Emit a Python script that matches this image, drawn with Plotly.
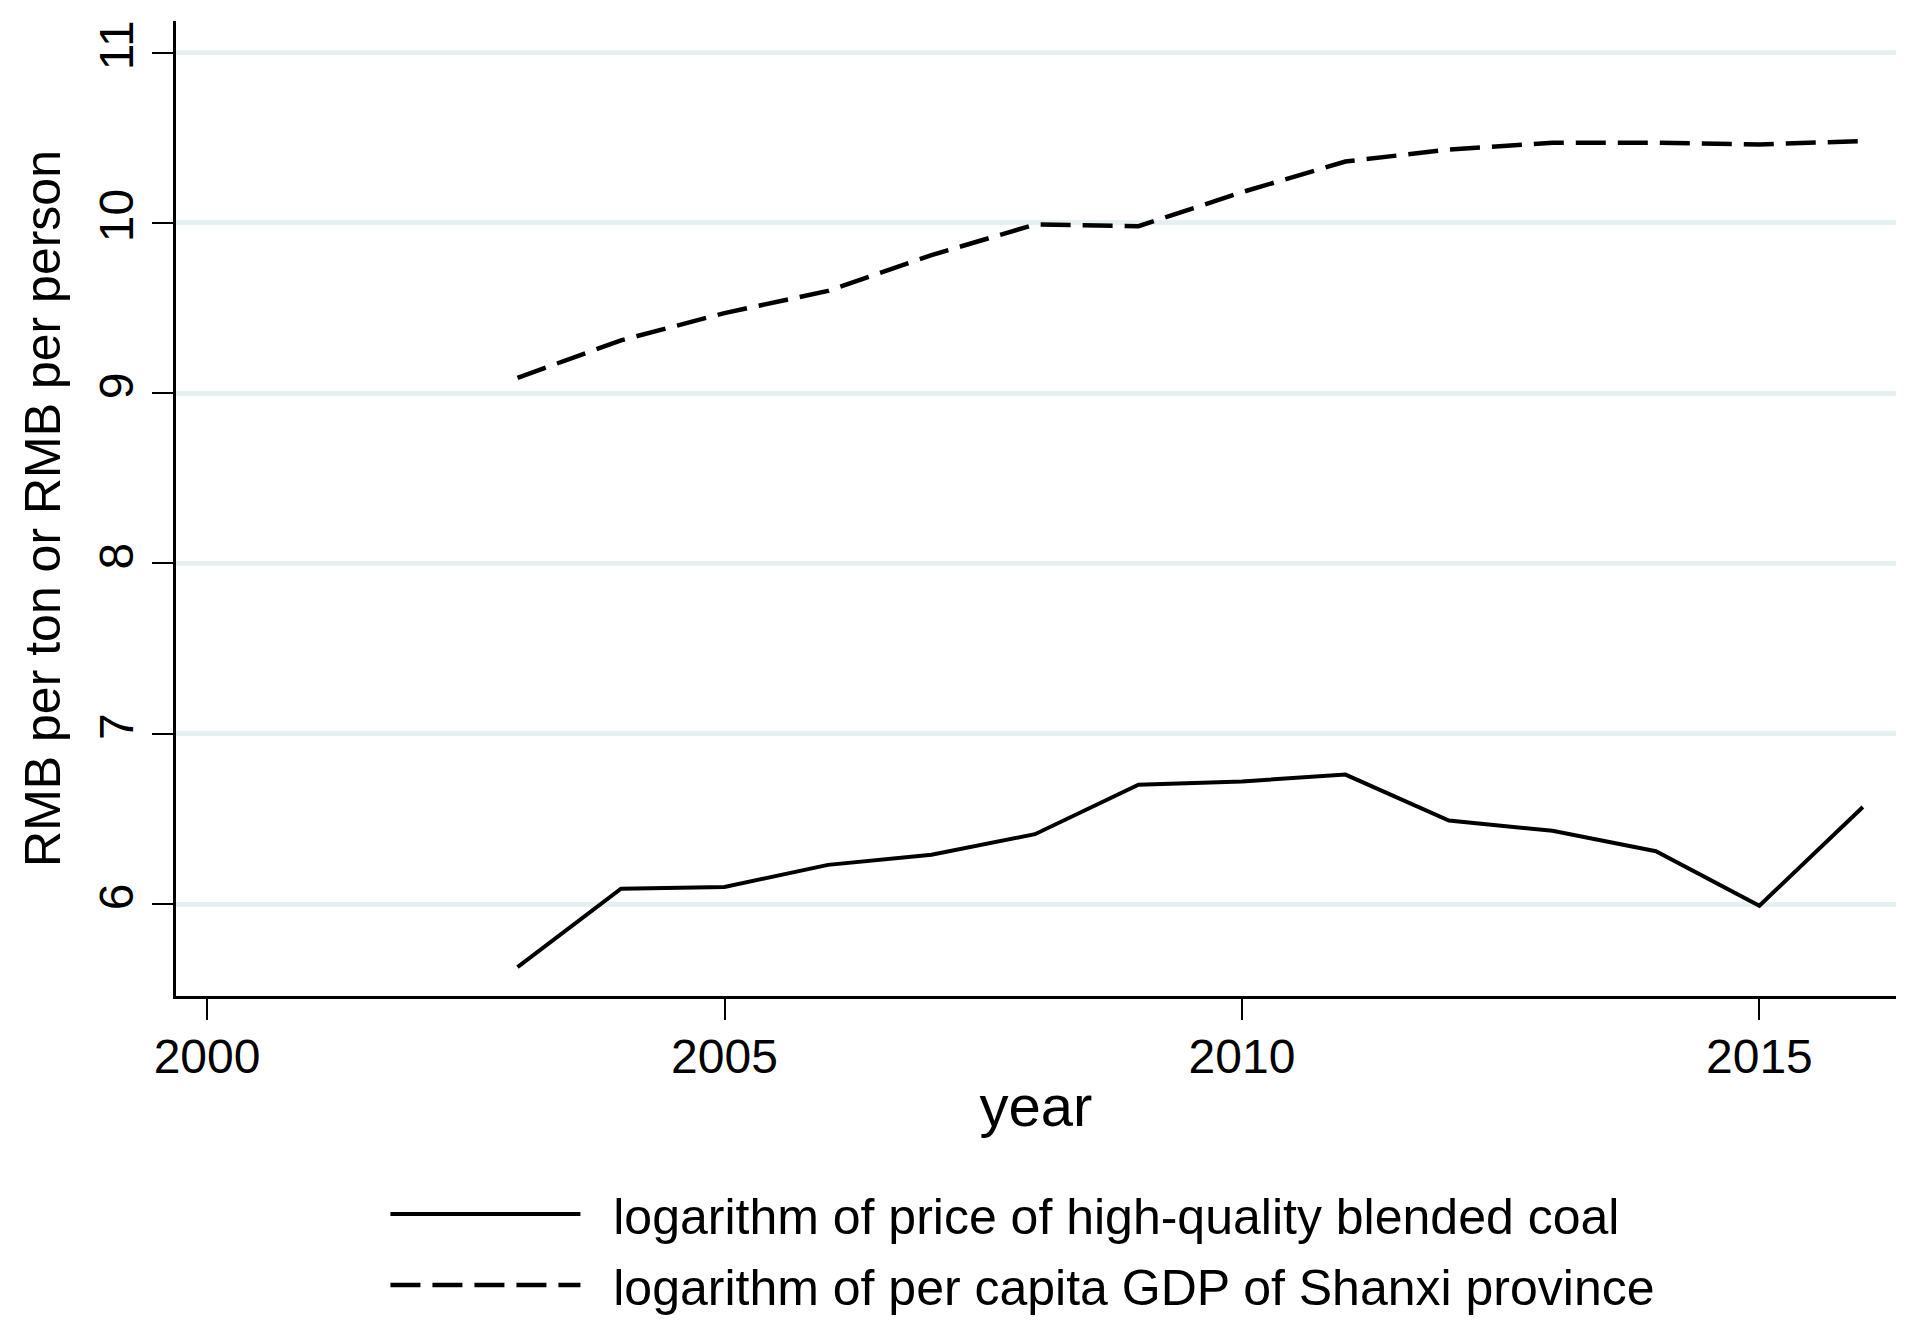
import plotly.graph_objects as go

years = [2003, 2004, 2005, 2006, 2007, 2008, 2009, 2010, 2011, 2012, 2013, 2014, 2015, 2016]
log_coal_price = [5.63, 6.09, 6.10, 6.23, 6.29, 6.41, 6.70, 6.72, 6.76, 6.49, 6.43, 6.31, 5.99, 6.57]
log_gdp_pc = [9.09, 9.31, 9.47, 9.60, 9.81, 9.99, 9.98, 10.18, 10.36, 10.43, 10.47, 10.47, 10.46, 10.48]

x_ticks = [2000, 2005, 2010, 2015]
y_ticks = [6, 7, 8, 9, 10, 11]

name_coal = "logarithm of price of high-quality blended coal"
name_gdp = "logarithm of per capita GDP of Shanxi province"

FONT = "Liberation Sans, Arial, Helvetica, sans-serif"
GAP = "\u00a0\u00a0"

fig = go.Figure()
fig.add_trace(go.Scatter(x=years, y=log_coal_price, mode="lines", name=GAP + name_coal,
                         legendgroup="coal", line=dict(color="black", width=4)))
fig.add_trace(go.Scatter(x=years, y=log_gdp_pc, mode="lines", name=GAP + name_gdp,
                         legendgroup="gdp", line=dict(color="black", width=4.5, dash="30px,12px")))

fig.update_layout(
    width=1921, height=1328,
    margin=dict(l=176, r=25, t=21, b=332),
    paper_bgcolor="white", plot_bgcolor="white",
    font=dict(family=FONT, color="black", size=48),
    showlegend=True,
    legend=dict(orientation="v", x=0.4924, xanchor="center",
                yref="container", y=0.1152, yanchor="top",
                font=dict(size=50, family=FONT), itemwidth=190,
                bgcolor="rgba(0,0,0,0)", tracegroupgap=3),
    xaxis=dict(range=[1999.70, 2016.32], tickvals=x_ticks, ticktext=[str(v) for v in x_ticks],
               showline=True, linecolor="black", linewidth=3, mirror=False,
               ticks="outside", ticklen=21, tickwidth=2, tickcolor="black",
               showgrid=False, zeroline=False, ticklabelstandoff=-5,
               tickfont=dict(size=48, family=FONT),
               title=dict(text="year", font=dict(size=58, family=FONT), standoff=4)),
    yaxis=dict(range=[5.46, 11.185], tickvals=y_ticks, ticktext=[str(v) for v in y_ticks],
               showline=True, linecolor="black", linewidth=3, mirror=False,
               ticks="outside", ticklen=21, tickwidth=2, tickcolor="black",
               showgrid=True, gridcolor="#E6F0F1", gridwidth=5, zeroline=False,
               tickangle=-90, tickfont=dict(size=48, family=FONT),
               title=dict(text="RMB per ton or RMB per person", font=dict(size=50, family=FONT), standoff=14)),
)

fig.write_html("out.html", config={"displayModeBar": False})
